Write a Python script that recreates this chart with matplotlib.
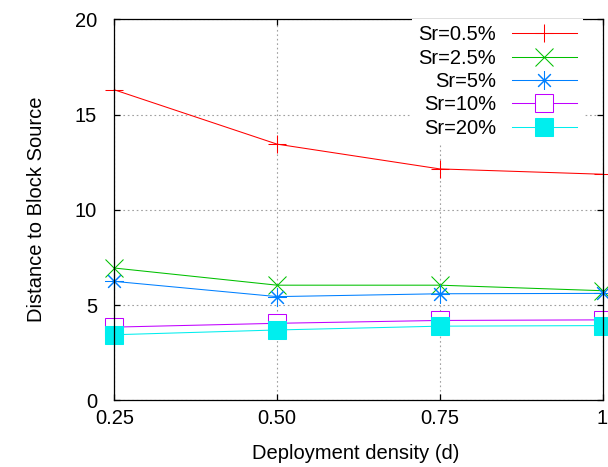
"""
Distance to block source vs deployment density, for several Sr values.
"""

import matplotlib
matplotlib.use("Agg")
import matplotlib.pyplot as plt

plt.rcParams["font.family"] = ["Liberation Sans", "DejaVu Sans"]
plt.rcParams["font.size"] = 14.5

density = [0.25, 0.50, 0.75, 1.0]
density_labels = ["0.25", "0.50", "0.75", "1"]

sr_labels = ["Sr=0.5%", "Sr=2.5%", "Sr=5%", "Sr=10%", "Sr=20%"]
sr_05 = [16.3, 13.45, 12.15, 11.87]
sr_25 = [6.95, 6.05, 6.05, 5.76]
sr_5 = [6.25, 5.45, 5.6, 5.62]
sr_10 = [3.85, 4.05, 4.2, 4.23]
sr_20 = [3.45, 3.7, 3.9, 3.93]

series = [sr_05, sr_25, sr_5, sr_10, sr_20]
colors = ["#ff0000", "#00c000", "#0080ff", "#c000ff", "#00eeee"]
markers = ["+", "x", (8, 2, 0), "s", "s"]
facecolors = ["none", "none", "none", "white", "#00eeee"]

fig = plt.figure(figsize=(6.08, 4.67), dpi=100)
ax = fig.add_axes([0.188, 0.1424, 0.803, 0.8163])

for vals, lab, c, m, fc in zip(series, sr_labels, colors, markers, facecolors):
    ax.plot(density, vals, color=c, linewidth=0.75, marker=m, markersize=13,
            markeredgewidth=0.75, markerfacecolor=fc, markeredgecolor=c,
            label=lab, clip_on=False)

ax.set_xlim(0.25, 1.0)
ax.set_ylim(0, 20)
ax.set_xticks(density)
ax.set_xticklabels(density_labels)
ax.set_yticks([0, 5, 10, 15, 20])

ax.grid(True, color="#a0a0a0", linestyle=(0, (1.5, 2.5)), linewidth=0.8)
ax.tick_params(axis="both", direction="in", top=True, right=True,
               length=4.3, width=0.9)
ax.tick_params(axis="x", pad=6)
ax.tick_params(axis="y", pad=12.5)
for s in ax.spines.values():
    s.set_linewidth(0.9)

ax.set_xlabel("Deployment density (d)")
ax.xaxis.set_label_coords(0.494, -0.114)
ax.set_ylabel("Distance to Block Source")
ax.yaxis.set_label_coords(-0.14, 0.502)

leg = ax.legend(loc="upper right", bbox_to_anchor=(0.96, 1.0),
                borderaxespad=0, borderpad=0.3, markerfirst=False,
                handlelength=3.23, handletextpad=0.8, labelspacing=0.215,
                fancybox=False, framealpha=1, edgecolor="none",
                facecolor="white")

# plt.show()
fig.savefig("out.png", dpi=100)
